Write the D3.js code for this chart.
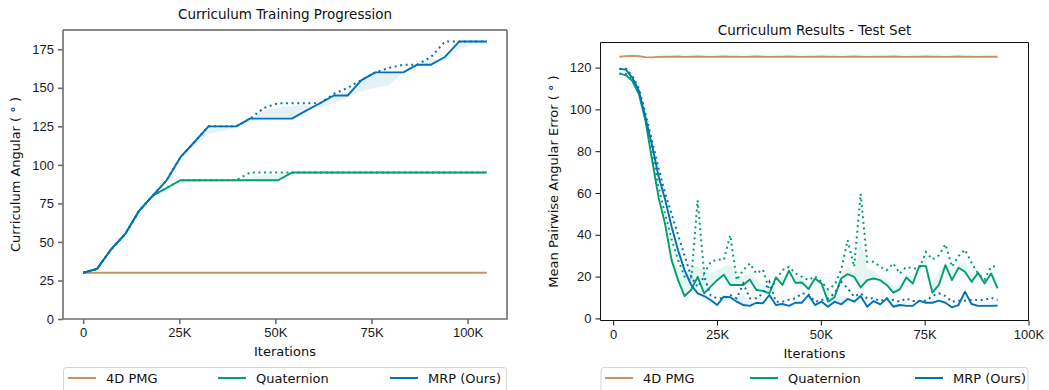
<!DOCTYPE html>
<html>
<head>
<meta charset="utf-8">
<script src="https://cdn.jsdelivr.net/npm/d3@7"></script>
<style>
  body { margin: 0; background: #fff; }
  svg { display: block; font-family: "DejaVu Sans", sans-serif; }
</style>
</head>
<body>
<div id="chart"></div>
<script>
// ---- curriculum progression (left), iterations in K ----
var curIters = [0, 3.6, 7.2, 10.9, 14.5, 18.1, 21.7, 25.3, 29, 32.6, 36.2, 39.8, 43.4, 47.1, 50.7,
                54.3, 57.9, 61.6, 65.2, 68.8, 72.4, 76, 79.7, 83.3, 86.9, 90.5, 94.1, 97.8, 101.4, 105]

var pmgCur = [30, 30, 30, 30, 30, 30, 30, 30, 30, 30, 30, 30, 30, 30, 30,
              30, 30, 30, 30, 30, 30, 30, 30, 30, 30, 30, 30, 30, 30, 30]

var quatCurMed  = [30, 32.5, 45, 55, 70, 80, 85, 90, 90, 90, 90, 90, 90, 90, 90,
                   95, 95, 95, 95, 95, 95, 95, 95, 95, 95, 95, 95, 95, 95, 95]
var quatCurMax  = [30, 32.5, 45, 55, 70, 80, 85, 90, 90, 90, 90, 90, 95, 95, 95,
                   95, 95, 95, 95, 95, 95, 95, 95, 95, 95, 95, 95, 95, 95, 95]
var quatCurMean = [30, 32.5, 45, 55, 70, 80, 83, 88, 89, 89.5, 90, 90.5, 92, 93.5, 94,
                   95, 95, 95, 95, 95, 95, 95, 95, 95, 95, 95, 95, 95, 95, 95]

var mrpCurMed  = [30, 32.5, 45, 55, 70, 80, 90, 105, 115, 125, 125, 125, 130, 130, 130,
                  130, 135, 140, 145, 145, 155, 160, 160, 160, 165, 165, 170, 180, 180, 180]
var mrpCurMax  = [30, 32.5, 45, 55, 70, 80, 90, 105, 115, 125, 125, 125, 130, 137, 140,
                  140, 140, 140, 146, 150, 155, 160, 163, 165, 165, 170, 180, 180, 180, 180]
var mrpCurMean = [30, 32.5, 45, 55, 70, 80, 88, 103, 112, 120, 122, 124, 130, 135, 137,
                  138, 139, 137, 140, 144, 148, 150, 152, 160, 165, 169, 167, 175, 178, 180]

// ---- test set results (right), iterations in K ----
var testIters = [1.5, 3.07, 4.64, 6.21, 7.78, 9.35, 10.92, 12.49, 14.06, 15.63,
                 17.2, 18.77, 20.34, 21.91, 23.48, 25.05, 26.62, 28.19, 29.76, 31.33,
                 32.9, 34.47, 36.04, 37.61, 39.18, 40.75, 42.32, 43.89, 45.46, 47.03,
                 48.6, 50.17, 51.74, 53.31, 54.88, 56.45, 58.02, 59.59, 61.16, 62.73,
                 64.3, 65.87, 67.44, 69.01, 70.58, 72.15, 73.72, 75.29, 76.86, 78.43,
                 80, 81.57, 83.14, 84.71, 86.28, 87.85, 89.42, 90.99, 92.56]

var pmgTest = [125.2, 125.5, 125.6, 125.4, 125.0, 124.9, 125.1, 125.2, 125.2, 125.3,
               125.1, 125.2, 125.3, 125.2, 125.1, 125.2, 125.3, 125.2, 125.2, 125.1,
               125.2, 125.3, 125.2, 125.1, 125.2, 125.2, 125.3, 125.2, 125.1, 125.2,
               125.2, 125.3, 125.2, 125.2, 125.1, 125.2, 125.3, 125.2, 125.1, 125.2,
               125.2, 125.2, 125.3, 125.2, 125.1, 125.2, 125.2, 125.3, 125.2, 125.2,
               125.1, 125.2, 125.3, 125.2, 125.2, 125.1, 125.2, 125.2, 125.2]

var quatTestMed  = [117.2, 116.3, 113.6, 107.2, 94.5, 76, 58, 45.3, 27.9, 18.3,
                    10.7, 13.6, 19.9, 12, 15.2, 18.3, 20.9, 16, 16, 16,
                    18.6, 13.6, 13.2, 12, 19.6, 16, 22.8, 17, 17.2, 14,
                    19.1, 16.7, 8, 10.1, 19.1, 21.2, 19.9, 14.8, 18.3, 19.1,
                    18.3, 16, 12.3, 13.9, 19.6, 16.7, 25.1, 25, 12.3, 16,
                    25.5, 18.3, 24.2, 22.3, 17.5, 21.8, 16.7, 21.5, 14.4]
var quatTestMax  = [117, 117, 114, 108, 96, 79, 63, 50, 38, 28,
                    20, 18, 56.5, 21.5, 27, 28.2, 27.9, 39.8, 18.3, 23.1,
                    26.3, 21.5, 23.4, 13.6, 18, 23.1, 24.7, 21.5, 19.9, 18.3,
                    20.2, 17.5, 13.9, 16, 23.1, 37.4, 24.7, 59.6, 27.1, 27.1,
                    24.7, 23.1, 26.3, 21.5, 24.7, 23.9, 23.9, 31.8, 28.2, 30.2,
                    35.5, 24.7, 29.8, 32.9, 26.6, 21.5, 18.6, 24.7, 25]
var quatTestMean = [117.2, 116.5, 113.8, 107.5, 95, 77, 60, 47, 30, 24,
                    22, 24, 25, 22, 22, 23, 25, 26, 20, 20,
                    22, 19, 16, 14, 18, 20, 22, 20, 19, 17,
                    19, 17.5, 14, 12, 20, 25, 22, 38, 24, 23,
                    20, 19, 15, 17, 21, 20, 26, 28, 18, 22,
                    27, 23, 26, 27, 22, 20, 18, 22, 19]

var mrpTestMed  = [119.4, 119, 115, 108.8, 96, 83, 68, 57, 44, 32.5,
                   23, 16, 12, 10.7, 8.8, 6.4, 10.4, 10.1, 8, 6.4,
                   6, 7.5, 7.2, 11.2, 6.4, 6.9, 6, 7.5, 7.5, 11.2,
                   6.4, 8, 5.6, 8, 6.7, 9.3, 8, 10.7, 5.6, 8.3,
                   6.7, 9.6, 5.6, 6.4, 6, 6, 8.5, 7.5, 7.5, 8.5,
                   7.5, 5.3, 6.4, 12.8, 6.9, 6, 6, 6, 6.1]
var mrpTestMax  = [119.5, 119.5, 116, 110, 98, 85, 72, 60, 50, 40,
                   30, 20, 15, 20, 11, 9.6, 9.6, 11.2, 9.6, 16.7,
                   9.6, 9.6, 12, 17.5, 8, 8, 9, 9.6, 12, 11.5,
                   8, 8.8, 9.6, 12, 17.5, 14.4, 10.4, 12, 9.6, 9.6,
                   8.3, 9.6, 8.8, 8, 9.6, 8.3, 8.3, 8.5, 10.7, 12,
                   10.7, 8, 8.5, 8.5, 8.8, 8.8, 8.8, 9.9, 8.8]
var mrpTestMean = [119.5, 119.2, 115.5, 109.5, 97, 84, 70, 58.5, 46, 35,
                   25, 18, 13, 9, 7, 6, 8, 9, 10, 12,
                   8, 7, 8, 10, 7, 6.5, 7, 8, 8, 10,
                   7, 8, 7, 9, 11, 10, 9, 10, 7, 8,
                   7, 8, 7, 7, 7, 7, 7.5, 7.5, 8.5, 9,
                   8, 6, 7, 10, 7, 6.5, 7, 7, 7]

var legendNames = ["4D PMG", "Quaternion", "MRP (Ours)"]
var colors = ["#ca9161", "#029e73", "#0173b2"]

var svg = d3.select("#chart").append("svg")
    .attr("width", 1049)
    .attr("height", 390)

function drawPanel(p) {
  var x = d3.scaleLinear().domain(p.xDomain).range([p.left, p.right])
  var y = d3.scaleLinear().domain(p.yDomain).range([p.bottom, p.top])

  var g = svg.append("g")
  var clipId = "clip" + p.id
  svg.append("clipPath").attr("id", clipId)
     .append("rect")
     .attr("x", p.left).attr("y", p.top)
     .attr("width", p.right - p.left).attr("height", p.bottom - p.top)

  var plot = g.append("g").attr("clip-path", "url(#" + clipId + ")")

  // bands first
  p.series.forEach(function(s) {
    if (!s.mean) return
    var area = d3.area()
        .x(function(d, i) { return x(p.iters[i]) })
        .y0(function(d, i) { return y(s.med[i]) })
        .y1(function(d, i) { return y(s.mean[i]) })
    plot.append("path")
        .attr("d", area(s.med))
        .attr("fill", s.color)
        .attr("fill-opacity", 0.1)
        .attr("stroke", "none")
  })

  var line = d3.line()
      .x(function(d, i) { return x(p.iters[i]) })
      .y(function(d) { return y(d) })

  p.series.forEach(function(s) {
    if (s.max) {
      plot.append("path")
          .attr("d", line(s.max))
          .attr("fill", "none")
          .attr("stroke", s.color)
          .attr("stroke-width", 2)
          .attr("stroke-dasharray", "2,3.6")
    }
    plot.append("path")
        .attr("d", line(s.med))
        .attr("fill", "none")
        .attr("stroke", s.color)
        .attr("stroke-width", 1.9)
        .attr("stroke-linejoin", "round")
  })

  // axes
  var xAxis = d3.axisBottom(x).tickValues(p.xTicks).tickSize(5).tickPadding(4)
      .tickFormat(function(d) { return d === 0 ? "0" : d + "K" })
  var yAxis = d3.axisLeft(y).tickValues(p.yTicks).tickSize(5).tickPadding(4)

  var gx = g.append("g").attr("transform", "translate(0," + p.bottom + ")").call(xAxis)
  var gy = g.append("g").attr("transform", "translate(" + p.left + ",0)").call(yAxis)
  ;[gx, gy].forEach(function(a) {
    a.select(".domain").remove()
    a.selectAll(".tick line").attr("stroke", p.spineColor).attr("stroke-width", p.spineWidth)
    a.selectAll(".tick text").attr("fill", "#1a1a1a").style("font-size", "13px")
  })

  // frame
  g.append("line").attr("x1", p.left).attr("x2", p.right).attr("y1", p.top).attr("y2", p.top)
      .attr("stroke", "#111").attr("stroke-width", 1)
  g.append("path")
      .attr("d", "M" + p.left + "," + p.top + "V" + p.bottom + "H" + p.right + "V" + p.top)
      .attr("fill", "none").attr("stroke", p.spineColor).attr("stroke-width", p.spineWidth)

  var cx = (p.left + p.right) / 2
  g.append("text").attr("x", cx).attr("y", p.titleY)
      .attr("text-anchor", "middle").style("font-size", "13.5px").attr("fill", "#111")
      .text(p.title)
  g.append("text").attr("x", cx).attr("y", p.bottom + 37)
      .attr("text-anchor", "middle").style("font-size", "13px").attr("fill", "#111")
      .text("Iterations")
  g.append("text")
      .attr("transform", "translate(" + p.ylabelX + "," + ((p.top + p.bottom) / 2) + ") rotate(-90)")
      .attr("text-anchor", "middle").style("font-size", "13px").attr("fill", "#111")
      .text(p.ylabel)

  // legend
  var lg = g.append("g")
  lg.append("rect")
      .attr("x", p.left + 0.5).attr("y", 367.5)
      .attr("width", p.right - p.left - 1).attr("height", 40)
      .attr("rx", 3)
      .attr("fill", "#fff").attr("stroke", "#d4d4d4")
  legendNames.forEach(function(name, i) {
    var lx = p.legendX[i]
    lg.append("line").attr("x1", lx).attr("x2", lx + 28)
        .attr("y1", 378).attr("y2", 378)
        .attr("stroke", colors[i]).attr("stroke-width", 2)
    lg.append("text").attr("x", lx + 38).attr("y", 383)
        .style("font-size", "13px").attr("fill", "#111")
        .text(name)
  })
}

drawPanel({
  id: "L", left: 63, right: 507, top: 30, bottom: 319,
  xDomain: [-5.25, 110.25], yDomain: [0, 187.5],
  xTicks: [0, 25, 50, 75, 100], yTicks: [0, 25, 50, 75, 100, 125, 150, 175],
  iters: curIters,
  spineColor: "#6e6e6e", spineWidth: 1.6,
  title: "Curriculum Training Progression", titleY: 19,
  ylabel: "Curriculum Angular ( \u00B0 )", ylabelX: 20,
  legendX: [68, 218, 390],
  series: [
    {color: colors[0], med: pmgCur},
    {color: colors[1], med: quatCurMed, max: quatCurMax, mean: quatCurMean},
    {color: colors[2], med: mrpCurMed, max: mrpCurMax, mean: mrpCurMean}
  ]
})

drawPanel({
  id: "R", left: 600.5, right: 1028.5, top: 42.5, bottom: 320.5,
  xDomain: [-3.05, 100], yDomain: [-1, 132],
  xTicks: [0, 25, 50, 75, 100], yTicks: [0, 20, 40, 60, 80, 100, 120],
  iters: testIters,
  spineColor: "#111", spineWidth: 1,
  title: "Curriculum Results - Test Set", titleY: 35,
  ylabel: "Mean Pairwise Angular Error ( \u00B0 )", ylabelX: 558,
  legendX: [605, 750, 915],
  series: [
    {color: colors[0], med: pmgTest},
    {color: colors[1], med: quatTestMed, max: quatTestMax, mean: quatTestMean},
    {color: colors[2], med: mrpTestMed, max: mrpTestMax, mean: mrpTestMean}
  ]
})
</script>
</body>
</html>
